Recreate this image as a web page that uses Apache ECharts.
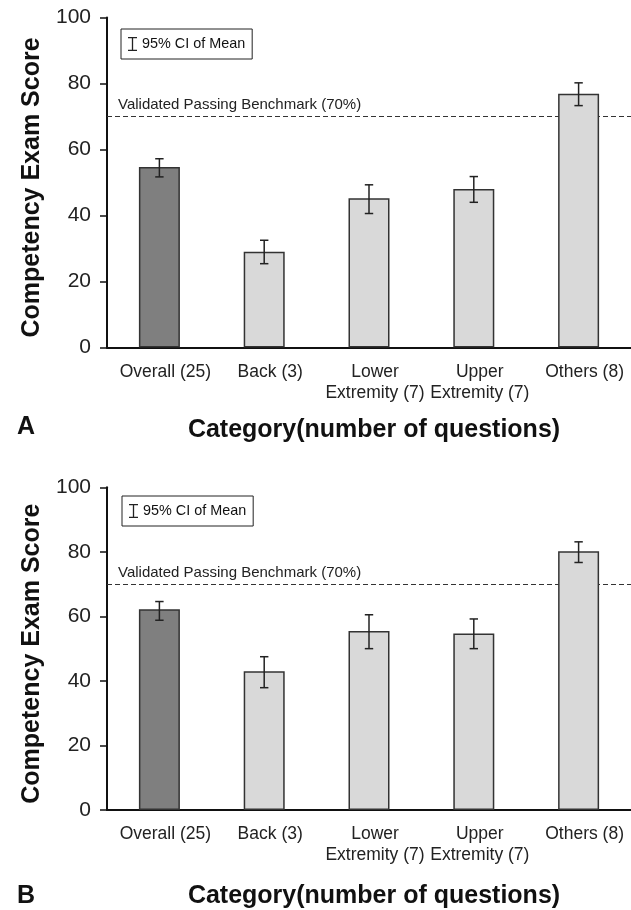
<!DOCTYPE html>
<html>
<head>
<meta charset="utf-8">
<script src="https://cdn.jsdelivr.net/npm/echarts@6/dist/echarts.min.js"></script>
<style>
html,body{margin:0;padding:0;background:#fff;}
#chart{width:631px;height:910px;}
</style>
</head>
<body>
<div id="chart"></div>
<script>
const categories = ['Overall (25)', 'Back (3)', 'Lower\nExtremity (7)', 'Upper\nExtremity (7)', 'Others (8)'];
const yTicks = [0, 20, 40, 60, 80, 100];
const benchmark = 70;
const benchmarkLabel = 'Validated Passing Benchmark (70%)';
const legendLabel = '95% CI of Mean';
const yTitle = 'Competency Exam Score';
const xTitle = 'Category(number of questions)';
const panelLabels = ['A', 'B'];

const meanA = [54.7, 29.0, 45.2, 48.0, 76.9];
const lowA  = [51.7, 25.4, 40.6, 44.0, 73.3];
const highA = [57.2, 32.5, 49.3, 51.8, 80.2];

const meanB = [62.2, 43.0, 55.5, 54.7, 80.2];
const lowB  = [58.8, 37.9, 50.0, 50.0, 76.7];
const highB = [64.6, 47.5, 60.5, 59.2, 83.1];

const FONT = '"Liberation Sans", Arial, Helvetica, sans-serif';
const DARK = '#7f7f7f', LIGHT = '#d9d9d9', EDGE = '#333';
const IBEAM = 'path://M0,0H9V1.3H5.15V12.7H9V14H0V12.7H3.85V1.3H0Z';

const chart = echarts.init(document.getElementById('chart'), null, {renderer: 'canvas'});

function barData(vals) {
  return vals.map((v, i) => ({
    value: v,
    itemStyle: {color: i === 0 ? DARK : LIGHT, borderColor: EDGE, borderWidth: 1.5}
  }));
}
function errData(low, high) {
  return low.map((l, i) => [i, l, high[i]]);
}
function renderErr(params, api) {
  const lo = api.coord([api.value(0), api.value(1)]);
  const hi = api.coord([api.value(0), api.value(2)]);
  const w = 4.2;
  const st = {stroke: '#222', lineWidth: 1.5};
  return {
    type: 'group',
    children: [
      {type: 'line', shape: {x1: lo[0], y1: lo[1], x2: hi[0], y2: hi[1]}, style: st},
      {type: 'line', shape: {x1: hi[0] - w, y1: hi[1], x2: hi[0] + w, y2: hi[1]}, style: st},
      {type: 'line', shape: {x1: lo[0] - w, y1: lo[1], x2: lo[0] + w, y2: lo[1]}, style: st}
    ]
  };
}
function xAxisCfg(gridIndex, nameGap) {
  return {
    type: 'category', gridIndex, data: categories,
    axisLine: {lineStyle: {color: '#111', width: 2}},
    axisTick: {show: false},
    axisLabel: {interval: 0, fontSize: 17.5, lineHeight: 21, color: '#222', margin: 14, fontFamily: FONT, verticalAlign: 'top', padding: [0, 0, 0, 12]},
    name: xTitle, nameLocation: 'middle', nameGap,
    nameTextStyle: {fontSize: 25, fontWeight: 'bold', color: '#111', fontFamily: FONT, padding: [0, 0, 0, 10]}
  };
}
function yAxisCfg(gridIndex) {
  return {
    type: 'value', gridIndex, min: yTicks[0], max: yTicks[yTicks.length - 1], interval: 20,
    axisLine: {show: true, lineStyle: {color: '#111', width: 2}},
    axisTick: {show: true, length: 7, lineStyle: {color: '#111', width: 1.5}},
    axisLabel: {fontSize: 21, color: '#222', margin: 16, fontFamily: FONT},
    splitLine: {show: false},
    name: yTitle, nameLocation: 'middle', nameGap: 57,
    nameTextStyle: {fontSize: 25, fontWeight: 'bold', color: '#111', fontFamily: FONT, padding: [0, 10, 0, 0]}
  };
}
function markLineCfg() {
  return {
    silent: true, symbol: ['none', 'none'], z: 1,
    lineStyle: {type: [5, 3], color: '#333', width: 1.2},
    label: {show: true, position: 'insideStartTop', formatter: benchmarkLabel, fontSize: 15, color: '#222', fontFamily: FONT, distance: [11, 4]},
    data: [{yAxis: benchmark}]
  };
}
function legendCfg(left, top) {
  return {
    left, top, orient: 'horizontal',
    data: [{name: legendLabel, icon: IBEAM}],
    itemWidth: 9, itemHeight: 14,
    padding: [8, 7, 8, 7],
    borderColor: '#222', borderWidth: 1, borderRadius: 0,
    selectedMode: false,
    textStyle: {fontSize: 14.4, color: '#111', fontFamily: FONT}
  };
}
const panelTitleStyle = {fontSize: 25, fontWeight: 'bold', color: '#111', fontFamily: FONT};

const option = {
  animation: false,
  textStyle: {fontFamily: FONT},
  title: [
    {text: panelLabels[0], left: 17, top: 415, padding: 0, textStyle: panelTitleStyle},
    {text: panelLabels[1], left: 17, top: 884, padding: 0, textStyle: panelTitleStyle}
  ],
  legend: [legendCfg(121, 29), legendCfg(122, 496)],
  grid: [
    {left: 107, right: 0, top: 17.5, height: 330},
    {left: 107, right: 0, top: 487.3, height: 325.2}
  ],
  xAxis: [xAxisCfg(0, 70), xAxisCfg(1, 74)],
  yAxis: [yAxisCfg(0), yAxisCfg(1)],
  series: [
    {type: 'bar', name: 'A', xAxisIndex: 0, yAxisIndex: 0, barWidth: 41, data: barData(meanA), markLine: markLineCfg(), z: 2},
    {type: 'custom', name: legendLabel, xAxisIndex: 0, yAxisIndex: 0, renderItem: renderErr, data: errData(lowA, highA), itemStyle: {color: '#222'}, z: 3},
    {type: 'bar', name: 'B', xAxisIndex: 1, yAxisIndex: 1, barWidth: 41, data: barData(meanB), markLine: markLineCfg(), z: 2},
    {type: 'custom', name: legendLabel, xAxisIndex: 1, yAxisIndex: 1, renderItem: renderErr, data: errData(lowB, highB), itemStyle: {color: '#222'}, z: 3}
  ]
};
chart.setOption(option);
</script>
</body>
</html>
